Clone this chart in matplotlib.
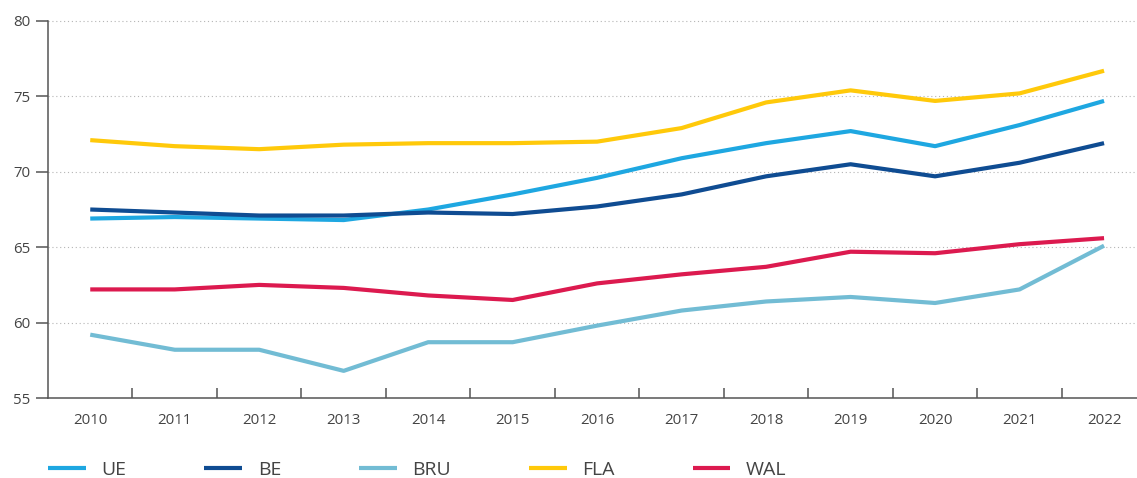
import numpy as np
import matplotlib.pyplot as plt
from matplotlib.ticker import FixedLocator

plt.rcParams['font.family'] = ['Open Sans', 'DejaVu Sans']

years = ['2010', '2011', '2012', '2013', '2014', '2015', '2016',
         '2017', '2018', '2019', '2020', '2021', '2022']
ue = [66.9, 67.0, 66.9, 66.8, 67.5, 68.5, 69.6, 70.9, 71.9, 72.7, 71.7, 73.1, 74.7]
be = [67.5, 67.3, 67.1, 67.1, 67.3, 67.2, 67.7, 68.5, 69.7, 70.5, 69.7, 70.6, 71.9]
bru = [59.2, 58.2, 58.2, 56.8, 58.7, 58.7, 59.8, 60.8, 61.4, 61.7, 61.3, 62.2, 65.1]
fla = [72.1, 71.7, 71.5, 71.8, 71.9, 71.9, 72.0, 72.9, 74.6, 75.4, 74.7, 75.2, 76.7]
wal = [62.2, 62.2, 62.5, 62.3, 61.8, 61.5, 62.6, 63.2, 63.7, 64.7, 64.6, 65.2, 65.6]

series = [('UE', ue, '#1ea7e1'), ('BE', be, '#0f4c92'), ('BRU', bru, '#72bcd4'),
          ('FLA', fla, '#ffc90a'), ('WAL', wal, '#dc1a4f')]

fig = plt.figure(figsize=(11.37, 4.78), dpi=100)
ax = fig.add_axes([48/1137, 1 - 398/478, 1 - 48/1137, (398 - 21)/478])

x = np.arange(len(years))
for name, vals, col in series:
    ax.plot(x, vals, color=col, lw=3, label=name, solid_capstyle='butt')

ax.set_xlim(-0.5, 12.39)
ax.set_ylim(55, 80)
ax.set_yticks([55, 60, 65, 70, 75, 80])
ax.set_xticks(x)
ax.set_xticklabels(years)
ax.xaxis.set_minor_locator(FixedLocator(np.arange(0.5, 12, 1)))

axis_col = '#555555'
txt_col = '#444444'
for s in ['top', 'right']:
    ax.spines[s].set_visible(False)
for s in ['left', 'bottom']:
    ax.spines[s].set_color(axis_col)
    ax.spines[s].set_linewidth(1.1)

ax.tick_params(axis='x', which='major', length=0, pad=11, labelsize=10.8, labelcolor=txt_col)
ax.tick_params(axis='x', which='minor', direction='in', length=7.5, width=1.1, color=axis_col)
ax.tick_params(axis='y', direction='out', length=8.5, width=1.1, color=axis_col,
               pad=4, labelsize=10.8, labelcolor=txt_col)

for v in [60, 65, 70, 75, 80]:
    ax.axhline(v, color='#b5b5b5', lw=0.8, ls=(0, (1, 2.5)), zorder=0, clip_on=False)

fig.legend(loc='center left', bbox_to_anchor=(48/1137, 1 - 470/478), ncol=5,
           frameon=False, fontsize=14, handlelength=1.95, handletextpad=0.8,
           columnspacing=4.0, borderpad=0, borderaxespad=0, labelcolor=txt_col)

fig.savefig('out.png', dpi=100)
